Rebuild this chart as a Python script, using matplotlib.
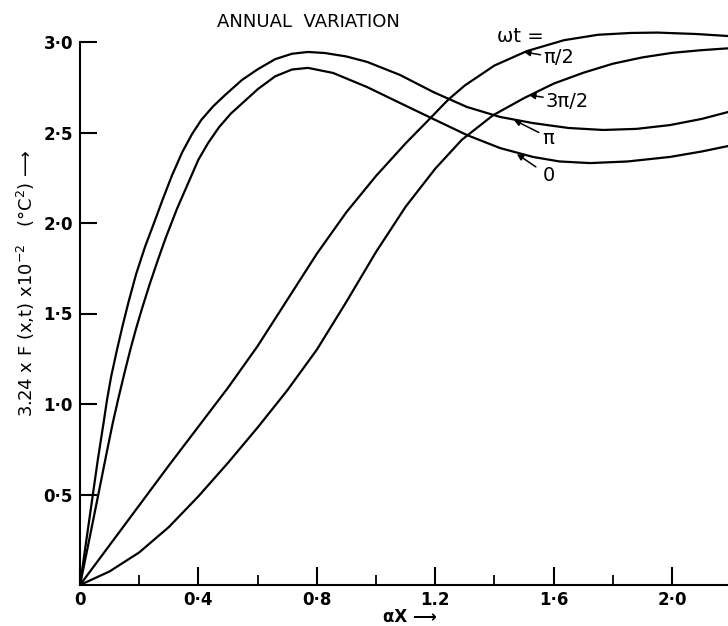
import numpy as np
import matplotlib.pyplot as plt

# curves (alpha*x, 3.24*F*1e2)
x_0 = [0, 0.025, 0.057, 0.09, 0.11, 0.128, 0.15, 0.17, 0.19, 0.21, 0.235, 0.264,
       0.29, 0.328, 0.36, 0.4, 0.432, 0.47, 0.51, 0.547, 0.601, 0.659, 0.716, 0.77,
       0.855, 0.97, 1.081, 1.193, 1.307, 1.419, 1.53, 1.62, 1.723, 1.85, 1.993, 2.1, 2.189]
y_0 = [0, 0.2, 0.46, 0.73, 0.89, 1.02, 1.17, 1.3, 1.42, 1.53, 1.66, 1.8,
       1.92, 2.08, 2.2, 2.35, 2.44, 2.53, 2.605, 2.66, 2.74, 2.81, 2.848, 2.857,
       2.829, 2.751, 2.663, 2.575, 2.486, 2.414, 2.365, 2.34, 2.331, 2.34, 2.365, 2.395, 2.425]

x_pi = [0, 0.02, 0.04, 0.06, 0.08, 0.091, 0.105, 0.125, 0.145, 0.165, 0.19, 0.22,
        0.25, 0.277, 0.31, 0.345, 0.378, 0.41, 0.45, 0.49, 0.547, 0.601, 0.659, 0.716,
        0.77, 0.828, 0.9, 0.97, 1.081, 1.193, 1.307, 1.419, 1.53, 1.65, 1.767, 1.88,
        1.993, 2.1, 2.189]
y_pi = [0, 0.23, 0.46, 0.69, 0.9, 1.02, 1.15, 1.3, 1.44, 1.57, 1.72, 1.87,
        2.0, 2.12, 2.26, 2.39, 2.49, 2.57, 2.645, 2.707, 2.79, 2.85, 2.905, 2.935,
        2.945, 2.939, 2.92, 2.89, 2.818, 2.724, 2.641, 2.586, 2.552, 2.525, 2.514, 2.52,
        2.541, 2.575, 2.613]

x_half = [0, 0.1, 0.2, 0.3, 0.4, 0.5, 0.6, 0.7, 0.8, 0.9, 1.0, 1.1, 1.172,
          1.243, 1.3, 1.4, 1.51, 1.635, 1.75, 1.861, 1.95, 2.084, 2.189]
y_half = [0, 0.22, 0.44, 0.66, 0.875, 1.09, 1.32, 1.575, 1.83, 2.06, 2.26, 2.44, 2.56,
          2.68, 2.76, 2.87, 2.95, 3.01, 3.04, 3.05, 3.052, 3.044, 3.033]

x_3half = [0, 0.1, 0.2, 0.3, 0.4, 0.5, 0.6, 0.7, 0.8, 0.9, 1.0, 1.1, 1.2, 1.29,
           1.395, 1.5, 1.6, 1.7, 1.8, 1.9, 2.0, 2.1, 2.189]
y_3half = [0, 0.075, 0.18, 0.32, 0.49, 0.675, 0.87, 1.075, 1.3, 1.565, 1.84, 2.09, 2.3, 2.46,
           2.595, 2.69, 2.77, 2.83, 2.88, 2.915, 2.94, 2.955, 2.965]

xticks = [0, 0.4, 0.8, 1.2, 1.6, 2.0]
xticklabels = ['0', '0\u00b74', '0\u00b78', '1.2', '1\u00b76', '2\u00b70']
yticks = [0.5, 1.0, 1.5, 2.0, 2.5, 3.0]
yticklabels = ['0\u00b75', '1\u00b70', '1\u00b75', '2\u00b70', '2\u00b75', '3\u00b70']

fig = plt.figure(figsize=(7.28, 6.26), dpi=100)
ax = fig.add_axes([80/728, 41/626, 648/728, 579.2/626])

for xx, yy in [(x_0, y_0), (x_pi, y_pi), (x_half, y_half), (x_3half, y_3half)]:
    ax.plot(xx, yy, color='black', lw=1.6, solid_joinstyle='round')

ax.set_xlim(0, 2.189)
ax.set_ylim(0, 3.2)
ax.spines['top'].set_visible(False)
ax.spines['right'].set_visible(False)
ax.spines['left'].set_bounds(0, 3.0)
for s in ['left', 'bottom']:
    ax.spines[s].set_linewidth(1.5)

ax.set_xticks(xticks)
ax.set_xticklabels(xticklabels, fontsize=12, fontweight='bold')
ax.set_xticks([0.2, 0.6, 1.0, 1.4, 1.8], minor=True)
ax.set_yticks(yticks)
ax.set_yticklabels(yticklabels, fontsize=12, fontweight='bold')
ax.tick_params(axis='x', which='major', direction='in', length=13, width=1.5, pad=4)
ax.tick_params(axis='x', which='minor', direction='in', length=7, width=1.3)
ax.tick_params(axis='y', which='major', direction='in', length=12, width=1.5, pad=5)

ax.text(0.77, 3.11, 'ANNUAL  VARIATION', ha='center', va='center', fontsize=13)
ax.text(1.409, 3.033, '\u03c9t =', ha='left', va='center', fontsize=14)

arrow = dict(arrowstyle='-|>', color='black', lw=1.1, mutation_scale=9, shrinkA=0, shrinkB=0)
ax.annotate('\u03c0/2', xy=(1.5, 2.945), xytext=(1.565, 2.912), ha='left', va='center',
            fontsize=14, arrowprops=arrow)
ax.annotate('3\u03c0/2', xy=(1.517, 2.707), xytext=(1.574, 2.674), ha='left', va='center',
            fontsize=14, arrowprops=arrow)
ax.annotate('', xy=(1.466, 2.569), xytext=(1.55, 2.5), arrowprops=arrow)
ax.text(1.583, 2.465, '\u03c0', ha='center', va='center', fontsize=14)
ax.annotate('', xy=(1.476, 2.381), xytext=(1.54, 2.31), arrowprops=arrow)
ax.text(1.584, 2.26, '0', ha='center', va='center', fontsize=14)

fig.text(26/728, 1 - 283/626, '3.24 x F (x,t) x10$^{-2}$   (\u00b0C$^{2}$) \u27f6',
         rotation=90, ha='center', va='center', fontsize=13)
fig.text(410/728, 1 - 617/626, '\u03b1X \u27f6', ha='center', va='center', fontsize=12,
         fontweight='bold')

fig.savefig('out.png', dpi=100)
